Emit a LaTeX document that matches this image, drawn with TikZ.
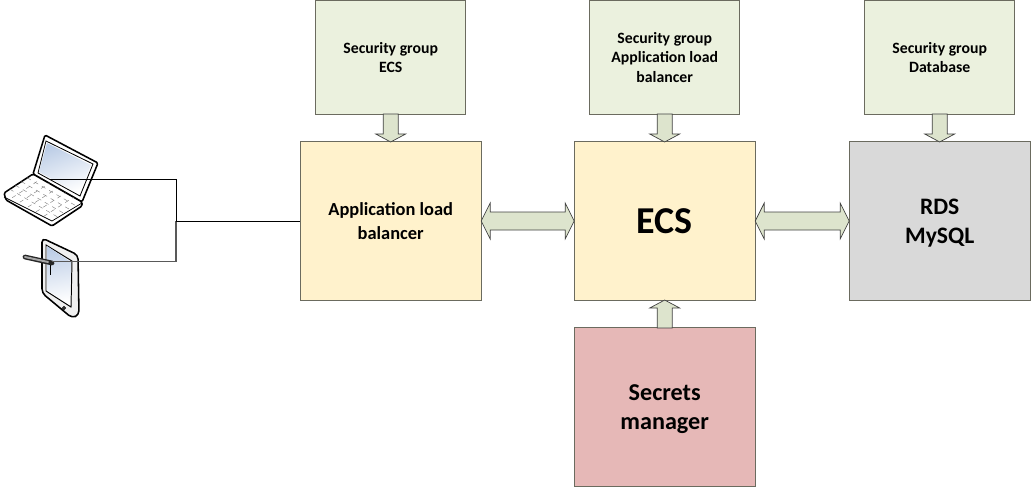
\documentclass[tikz,border=0pt]{standalone}
\usepackage{fontspec}
\setmainfont{Carlito}
\usetikzlibrary{calc}
\definecolor{boxline}{HTML}{6B6B5F}
\definecolor{sgfill}{HTML}{EBF1DE}
\definecolor{ecsfill}{HTML}{FFF2CC}
\definecolor{rdsfill}{HTML}{D9D9D9}
\definecolor{secretfill}{HTML}{E6B8B7}
\definecolor{arrowfill}{HTML}{DDE4CD}
\definecolor{screenblue}{HTML}{BCCDE6}
\tikzset{
  box/.style={draw=boxline,line width=0.7pt,inner sep=0pt,outer sep=0pt,align=center,font=\bfseries},
  sgbox/.style={box,fill=sgfill,minimum width=3.75cm,minimum height=2.825cm,font=\bfseries\fontsize{11.2}{13.6}\selectfont},
  bigbox/.style={box,minimum width=4.525cm,minimum height=3.95cm},
  blockarrow/.style={draw=black!75,line width=0.5pt,fill=arrowfill},
  link/.style={draw=black,line width=0.6pt},
  device/.style={draw=black,line width=1.1pt,line join=round,fill=white}
}
\newcommand{\arrowdown}[2]{%
  \draw[blockarrow] ($(#1.south)+(-7.5,0)$) -- ($(#2.north)+(-7.5,-8)$) -- ($(#2.north)+(-15,-8)$) -- (#2.north)
    -- ($(#2.north)+(15,-8)$) -- ($(#2.north)+(7.5,-8)$) -- ($(#1.south)+(7.5,0)$) -- cycle;}
\newcommand{\arrowup}[2]{%
  \draw[blockarrow] ($(#1.north)+(-7.5,0)$) -- ($(#2.south)+(-7.5,8)$) -- ($(#2.south)+(-15,8)$) -- (#2.south)
    -- ($(#2.south)+(15,8)$) -- ($(#2.south)+(7.5,8)$) -- ($(#1.north)+(7.5,0)$) -- cycle;}
\newcommand{\arrowboth}[2]{%
  \draw[blockarrow] (#1.east) -- ($(#1.east)+(9,-18)$) -- ($(#1.east)+(9,-9)$) -- ($(#2.west)+(-9,-9)$) -- ($(#2.west)+(-9,-18)$) -- (#2.west)
    -- ($(#2.west)+(-9,18)$) -- ($(#2.west)+(-9,9)$) -- ($(#1.east)+(9,9)$) -- ($(#1.east)+(9,18)$) -- cycle;}
\begin{document}
\begin{tikzpicture}[x=0.025cm,y=-0.025cm]
  \useasboundingbox (0,0) rectangle (1032,487);
  \node[sgbox] (sgecs) at (390.7,57.5) {Security group\\ECS};
  \node[sgbox] (sgalb) at (664.7,57.5) {Security group\\Application load\\balancer};
  \node[sgbox] (sgdb) at (939.7,57.5) {Security group\\Database};
  \node[bigbox,fill=ecsfill,font=\bfseries\fontsize{13.1}{16.5}\selectfont] (alb) at (390.7,221) {Application load\\balancer};
  \node[bigbox,fill=ecsfill,font=\bfseries\fontsize{27}{32}\selectfont] (ecs) at (664.7,221) {ECS};
  \node[bigbox,fill=rdsfill,text depth=0pt,font=\bfseries\fontsize{16.8}{20.6}\selectfont] (rds) at (939.7,221) {RDS\\MySQL};
  \node[bigbox,fill=secretfill,text depth=0pt,font=\bfseries\fontsize{17.2}{20.6}\selectfont] (secrets) at (664.7,407) {Secrets\\manager};
  \arrowdown{sgecs}{alb}
  \arrowdown{sgalb}{ecs}
  \arrowdown{sgdb}{rds}
  \arrowup{secrets}{ecs}
  \arrowboth{alb}{ecs}
  \arrowboth{ecs}{rds}

  \coordinate (hingeL) at (33,174);
  \coordinate (hingeR) at (82,202);
  \coordinate (baseL) at (4,193);
  \coordinate (baseF) at (52,221);
  \draw[device,rounded corners=1pt] (45,135) -- (98,163) -- (82,202) -- (33,174) -- cycle;
  \draw[line width=0.6pt,fill=white] (46,141) -- (93,164) -- (80,196) -- (38,173) -- cycle;
  \shade[left color=screenblue,right color=white,shading angle=20] (47,143) -- (91,165) -- (79,194) -- (39,172) -- cycle;
  \draw[device,rounded corners=1pt] (33,174) -- (82,202) -- (82,206) -- (52,226) -- (6,200) -- (4,193) -- cycle;
  \draw[line width=0.5pt] (4,197) -- (52,221) -- (82,203);
  \foreach \t in {0.2,0.4,0.6,0.8}{
    \draw[gray,line width=0.3pt,dashed] ($(baseL)!\t!(hingeL)$) -- ($(baseF)!\t!(hingeR)$);
  }
  \foreach \t in {0.17,0.33,0.5,0.67,0.83}{
    \draw[gray,line width=0.3pt,dashed] ($(baseL)!\t!(baseF)$) -- ($(hingeL)!\t!(hingeR)$);
  }
  \draw[device,fill=black!6,rounded corners=3pt] (42,238) -- (78,255) -- (79,315) -- (72,318) -- (42,293) -- cycle;
  \draw[line width=0.7pt,fill=white] (46,245) -- (72,261) -- (71,307) -- (46,291) -- cycle;
  \shade[left color=screenblue,right color=white,shading angle=10] (47,246) -- (71,262) -- (70,305) -- (47,290) -- cycle;
  \draw[line width=0.6pt,fill=black!30] (64,308) circle (1.5);
  \draw[line width=0.6pt] (50,263) -- (50,275);
  \draw[line width=3.4pt,line cap=round,black!85] (25,257) -- (52,263);
  \draw[line width=1.4pt,line cap=round,black!35] (25,257) -- (48,262);

  \coordinate (laptop) at (50,179.5);
  \coordinate (tablet) at (52,261.5);
  \coordinate (junction) at (176,221);
  \draw[link] (laptop) -| (junction);
  \draw[link,black!65,line width=0.8pt] (tablet) -| (junction);
  \draw[link,line width=0.7pt] (junction) -- (alb.west);
\end{tikzpicture}
\end{document}
